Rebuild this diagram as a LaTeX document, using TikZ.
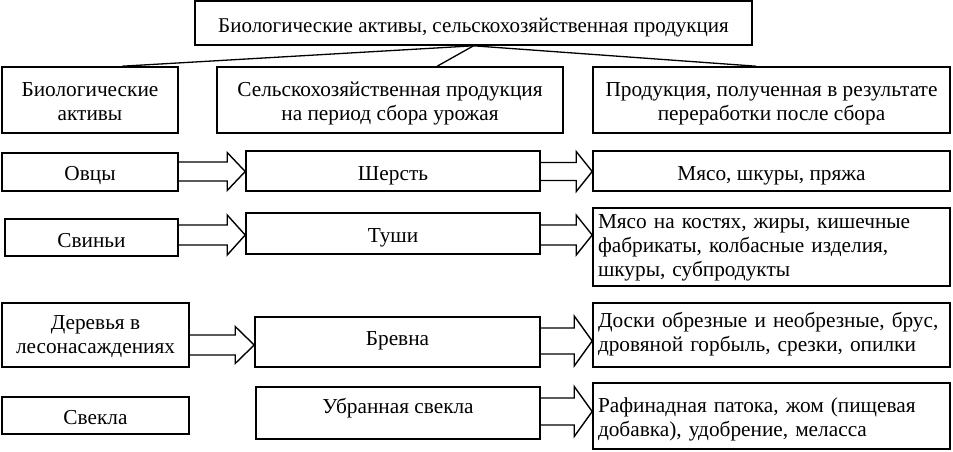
\documentclass[tikz,border=0pt]{standalone}
\usepackage{fontspec}
\setmainfont{Liberation Serif}
\usetikzlibrary{calc}
% invisible struts fixing the first line's height and the last line's depth
\newcommand\strH[1]{\rule{0pt}{#1pt}}
\newcommand\strD[1]{\rule[-#1pt]{0pt}{#1pt}}
\newcommand\fatarr[6]{% from, to, y centre (px down), body half, head half, head length
  \draw[fatline] let \p1=(#1.east), \p2=(#2.west) in
    (\x1,{-(#3-#4)*1pt}) -- ({\x2-#6pt},{-(#3-#4)*1pt}) -- ({\x2-#6pt},{-(#3-#5)*1pt})
    -- (\x2,{-#3*1pt}) -- ({\x2-#6pt},{-(#3+#5)*1pt}) -- ({\x2-#6pt},{-(#3+#4)*1pt})
    -- (\x1,{-(#3+#4)*1pt});
}
\begin{document}
\begin{tikzpicture}[x=1pt,y=-1pt,
  box/.style={draw, line width=1.6pt, inner sep=0pt, align=center,
    font=\fontsize{21.3}{24}\selectfont},
  leftbox/.style={box, align=left, inner xsep=5pt, text width=347pt},
  conn/.style={line width=1.3pt},
  fatline/.style={line width=1.4pt, line join=miter}
]
\useasboundingbox (0,0) rectangle (953,451);

% top
\node[box, font=\fontsize{21}{24}\selectfont, minimum width=557, minimum height=44] (top) at (473.5,23)
  {\strH{23}Биологические активы, сельскохозяйственная продукция\strD{5}};

% headers
\node[box, minimum width=176, minimum height=66] (biol) at (90,100)
  {\strH{21}Биологические\\активы\strD{5}};
\node[box, minimum width=346, minimum height=66] (sel) at (390,100)
  {\strH{21}Сельскохозяйственная продукция\\на период сбора урожая\strD{5}};
\node[box, minimum width=357, minimum height=66] (prod) at (771.5,100)
  {\strH{21}Продукция, полученная в результате\\переработки после сбора\strD{5}};

% row: sheep
\node[box, minimum width=176, minimum height=38] (ovcy) at (90,172)
  {\strH{21}Овцы\strD{5}};
\node[box, minimum width=294, minimum height=40] (sherst) at (393,171)
  {\strH{23}Шерсть\strD{5}};
\node[box, minimum width=357, minimum height=40] (myaso1) at (771.5,171)
  {\strH{23}Мясо, шкуры, пряжа\strD{5}};

% row: pigs
\node[box, minimum width=173, minimum height=37] (svini) at (91.5,237.5)
  {\strH{24}Свиньи\strD{5}};
\node[box, minimum width=294, minimum height=41] (tushi) at (393,233.5)
  {\strH{22}Туши\strD{5}};
\node[leftbox, minimum height=78] (myaso2) at (771.5,247)
  {\strH{16}Мясо на костях, жиры, кишечные\\фабрикаты, колбасные изделия,\\шкуры, субпродукты\strD{6}};

% row: trees
\node[box, minimum width=187, minimum height=64] (derev) at (95.5,335)
  {\strH{17}Деревья в\\лесонасаждениях\strD{5}};
\node[box, minimum width=285, minimum height=50] (brevna) at (397.5,342)
  {\strH{16}Бревна\strD{9}};
\node[leftbox, minimum height=64] (doski) at (771.5,335)
  {\strH{16}Доски обрезные и необрезные, брус,\\дровяной горбыль, срезки, опилки\strD{8}};

% row: beet
\node[box, minimum width=187, minimum height=37] (svekla) at (95.5,415.5)
  {\strH{22}Свекла\strD{5}};
\node[box, minimum width=284, minimum height=52] (ubr) at (398,413)
  {\strH{16}Убранная свекла\strD{15}};
\node[leftbox, minimum height=66] (raf) at (771.5,416)
  {\strH{21}Рафинадная патока, жом (пищевая\\добавка), удобрение, меласса\strD{5}};

% connectors from the top box
\draw[conn] (top.south) -- ($(biol.north west)+(121,0)$);
\draw[conn] (top.south) -- ($(sel.north west)+(221,0)$);
\draw[conn] (top.south) -- ($(prod.north west)+(164,0)$);

% block arrows
\fatarr{ovcy}{sherst}{171.5}{9.5}{19}{18}
\fatarr{sherst}{myaso1}{171.5}{9}{20}{16}
\fatarr{svini}{tushi}{235}{10}{20}{18}
\fatarr{tushi}{myaso2}{235}{10}{20}{16}
\fatarr{derev}{brevna}{345}{10}{18.5}{19}
\fatarr{brevna}{doski}{341}{13}{25}{18}
\fatarr{ubr}{raf}{411.5}{13.5}{25}{18}
\end{tikzpicture}
\end{document}
